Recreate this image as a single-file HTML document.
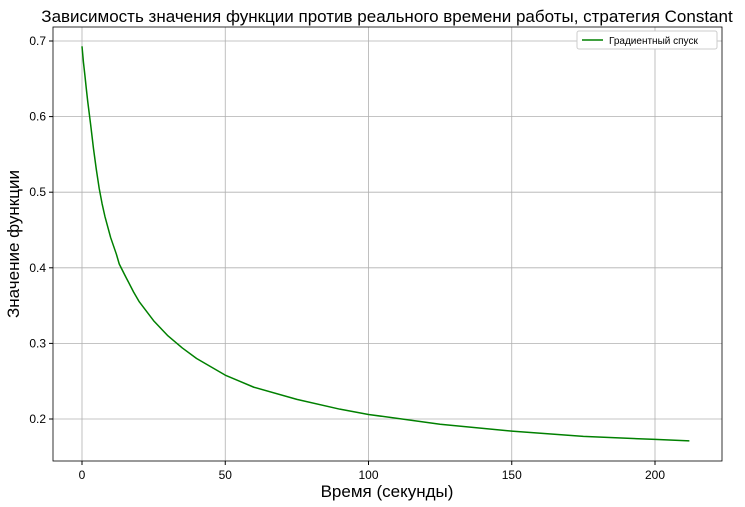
<!DOCTYPE html>
<html><head><meta charset="utf-8"><style>
body{margin:0;background:#fff;}
svg{display:block;font-family:"Liberation Sans","DejaVu Sans",sans-serif;}
</style></head><body>
<svg id="chart" width="745" height="507"></svg>
<script>
const times=[0,0.5,1,1.5,2,3,4,5,6,7,8,10,12,13,15,18,20,25,30,35,40,50,60,75,90,100,125,150,175,200,212];
const values=[0.693,0.672,0.655,0.637,0.62,0.59,0.558,0.53,0.505,0.485,0.468,0.44,0.418,0.405,0.39,0.368,0.355,0.33,0.31,0.294,0.28,0.258,0.242,0.226,0.213,0.206,0.193,0.184,0.177,0.173,0.171];
const xTicks=[0,50,100,150,200];
const yTicks=[0.2,0.3,0.4,0.5,0.6,0.7];
const seriesName="Градиентный спуск";
const NS="http://www.w3.org/2000/svg";
const svg=document.getElementById('chart');
const L=53,R=722,T=27,B=461;
const X=v=>82+v*(573/200);
const Y=v=>41+(0.7-v)*756;
function el(t,a,txt){const e=document.createElementNS(NS,t);for(const k in a)e.setAttribute(k,a[k]);if(txt!==undefined)e.textContent=txt;svg.appendChild(e);return e;}
xTicks.forEach(v=>{
 const g=el('line',{x1:X(v),x2:X(v),y1:T,y2:B,stroke:'#b0b0b0','stroke-width':0.8});
 
 const t=el('line',{x1:X(v),x2:X(v),y1:B,y2:B+4,stroke:'#000'});
 
 const l=el('text',{x:X(v),y:B+18,'text-anchor':'middle','font-size':12},v);
 
});
yTicks.forEach(v=>{
 const g=el('line',{x1:L,x2:R,y1:Y(v),y2:Y(v),stroke:'#b0b0b0','stroke-width':0.8});
 
 const t=el('line',{x1:L-4,x2:L,y1:Y(v),y2:Y(v),stroke:'#000'});
 
 const l=el('text',{x:L-7,y:Y(v)+4,'text-anchor':'end','font-size':12},v.toFixed(1));
 
});
const p=el('polyline',{points:times.map((t,i)=>X(t)+','+Y(values[i])).join(' '),fill:'none',stroke:'#008000','stroke-width':1.5,'stroke-linejoin':'round'});

const fr=el('rect',{x:L,y:T,width:R-L,height:B-T,fill:'none',stroke:'#000','stroke-width':0.8});

const ti=el('text',{x:387,y:22,'text-anchor':'middle','font-size':17},'Зависимость значения функции против реального времени работы, стратегия Constant');

const xt=el('text',{x:387,y:497,'text-anchor':'middle','font-size':17},'Время (секунды)');

const yt=el('text',{x:19,y:244,'text-anchor':'middle','font-size':17,transform:'rotate(-90 19 244)'},'Значение функции');

const lg=el('rect',{x:577,y:31,width:140,height:18,fill:'#fff',stroke:'#ccc',rx:2});

const ll=el('line',{x1:582,x2:603,y1:40,y2:40,stroke:'#008000','stroke-width':1.5});

const lt=el('text',{x:609,y:44,'font-size':10},seriesName);

</script>
</body></html>
